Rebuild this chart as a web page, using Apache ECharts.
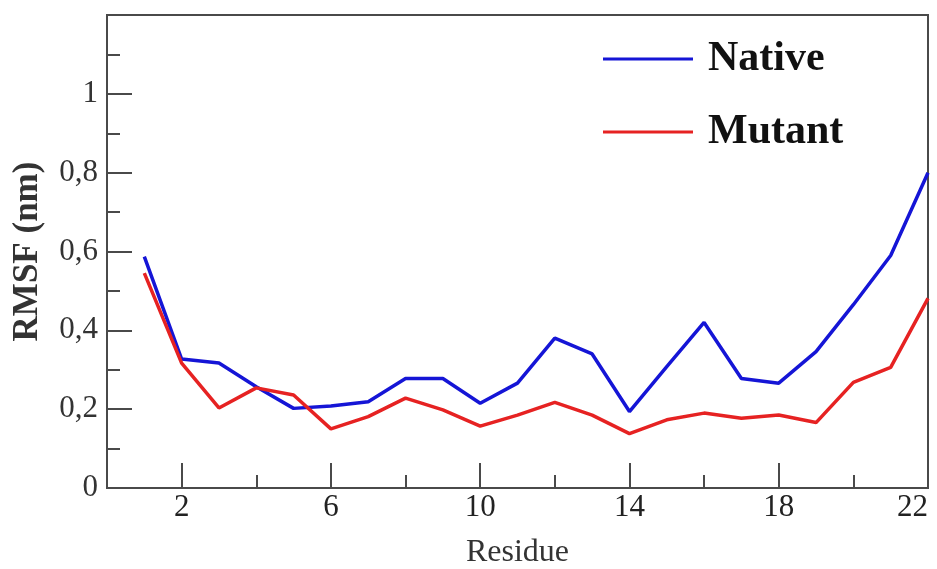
<!DOCTYPE html>
<html>
<head>
<meta charset="utf-8">
<script src="https://cdn.jsdelivr.net/npm/echarts@6/dist/echarts.min.js"></script>
<style>html,body{margin:0;padding:0;background:#fff}#c{width:937px;height:569px}</style>
</head>
<body>
<div id="c"></div>
<script>
const residues = [1,2,3,4,5,6,7,8,9,10,11,12,13,14,15,16,17,18,19,20,21,22];
const nativeRMSF = [0.587,0.327,0.317,0.257,0.202,0.208,0.219,0.278,0.278,0.215,0.266,0.380,0.340,0.194,0.308,0.420,0.278,0.266,0.346,0.465,0.590,0.800];
const mutantRMSF = [0.545,0.317,0.203,0.254,0.236,0.150,0.181,0.228,0.198,0.157,0.185,0.217,0.185,0.138,0.173,0.190,0.177,0.185,0.166,0.268,0.306,0.481];
const xMajorTicks = [2,6,10,14,18,22];
const xMinorTicks = [4,8,12,16,20];
const seriesNames = ['Native','Mutant'];

const font = 'Liberation Serif';
const axisColor = '#4a4a4a';
const chart = echarts.init(document.getElementById('c'));
const pairs = (ys) => residues.map((x, i) => [x, ys[i]]);

chart.setOption({
  animation: false,
  grid: {left: 107, right: 9, top: 15, bottom: 81, containLabel: false, outerBoundsMode: 'none',
         show: true, borderColor: axisColor, borderWidth: 2, backgroundColor: 'transparent'},
  legend: {
    orient: 'vertical', left: 598, top: 33, itemWidth: 90, itemHeight: 3, itemGap: 31,
    icon: 'rect',
    textStyle: {fontFamily: font, fontWeight: 'bold', fontSize: 42, lineHeight: 40, color: '#111', padding: [0,0,0,10]},
    data: seriesNames
  },
  xAxis: [{
    type: 'value', min: 0, max: 22,
    name: 'Residue', nameLocation: 'middle', nameGap: 49,
    nameTextStyle: {fontFamily: font, fontSize: 32, color: '#333'},
    axisLine: {show: true, lineStyle: {color: axisColor, width: 2}},
    axisTick: {show: true, inside: true, length: 25, customValues: xMajorTicks, lineStyle: {color: axisColor, width: 2}},
    axisLabel: {customValues: xMajorTicks, fontFamily: font, fontSize: 31, color: '#222', margin: 4, alignMaxLabel: 'right'},
    splitLine: {show: false}
  }, {
    type: 'value', min: 0, max: 22, position: 'bottom',
    axisLine: {show: false},
    axisTick: {show: true, inside: true, length: 13, customValues: xMinorTicks, lineStyle: {color: axisColor, width: 2}},
    axisLabel: {show: false},
    splitLine: {show: false}
  }],
  yAxis: {
    type: 'value', min: 0, max: 1.2, interval: 0.2,
    name: 'RMSF (nm)', nameLocation: 'middle', nameGap: 62,
    nameTextStyle: {fontFamily: font, fontWeight: 'bold', fontSize: 35, color: '#333'},
    axisLine: {show: true, lineStyle: {color: axisColor, width: 2}},
    axisTick: {show: true, inside: true, length: 25, lineStyle: {color: axisColor, width: 2}},
    minorTick: {show: true, splitNumber: 2, length: 13, lineStyle: {color: axisColor, width: 2}},
    axisLabel: {
      fontFamily: font, fontSize: 31, color: '#333', margin: 9,
      formatter: (v) => v > 1.05 ? '' : String(Math.round(v * 10) / 10).replace('.', ',')
    },
    splitLine: {show: false}
  },
  series: [{
    name: seriesNames[0], type: 'line', xAxisIndex: 0, data: pairs(nativeRMSF),
    symbol: 'none', lineStyle: {color: '#1515d6', width: 3.5}, itemStyle: {color: '#1515d6'}
  }, {
    name: seriesNames[1], type: 'line', xAxisIndex: 0, data: pairs(mutantRMSF),
    symbol: 'none', lineStyle: {color: '#e62222', width: 3.5}, itemStyle: {color: '#e62222'}
  }]
});
</script>
</body>
</html>
